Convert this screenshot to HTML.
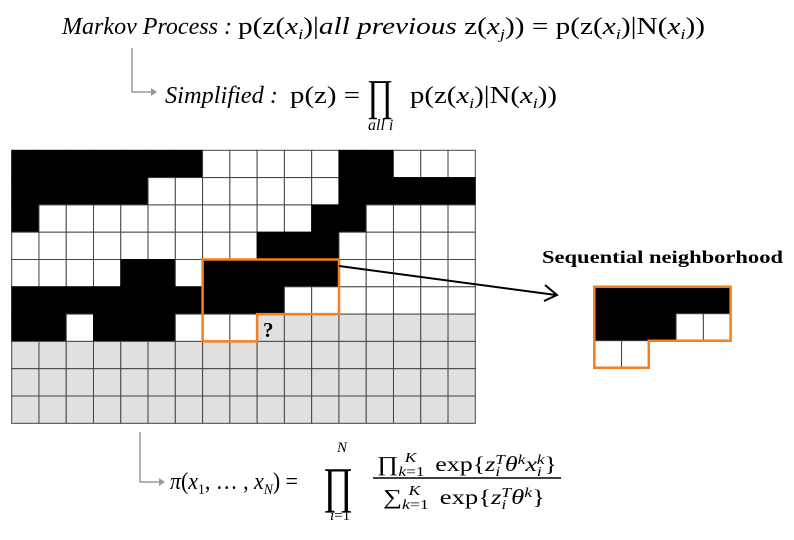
<!DOCTYPE html>
<html><head><meta charset="utf-8"><style>
html,body{margin:0;padding:0;background:#fff;}
svg{display:block;}
text{font-family:"Liberation Serif",serif;fill:#000;}
</style></head><body>
<svg id="s" width="794" height="540" viewBox="0 0 794 540">
 <g>
  <text x="62" y="34" font-size="24" font-style="italic" textLength="170" lengthAdjust="spacingAndGlyphs">Markov Process :</text>
  <text x="238" y="34" font-size="24" textLength="467" lengthAdjust="spacingAndGlyphs">p(z(<tspan font-style="italic">x</tspan><tspan font-size="15" font-style="italic" dy="5">i</tspan><tspan dy="-5">)|</tspan><tspan font-style="italic">all previous </tspan>z(<tspan font-style="italic">x</tspan><tspan font-size="15" font-style="italic" dy="5">j</tspan><tspan dy="-5">)) =  p(z(</tspan><tspan font-style="italic">x</tspan><tspan font-size="15" font-style="italic" dy="5">i</tspan><tspan dy="-5">)|N(</tspan><tspan font-style="italic">x</tspan><tspan font-size="15" font-style="italic" dy="5">i</tspan><tspan dy="-5">))</tspan></text>
 </g>
 <path d="M132,48 V92 H152" fill="none" stroke="#999" stroke-width="1.5"/>
 <path d="M151,88 L157,92 L151,96 Z" fill="#999"/>
 <g>
  <text x="165" y="103" font-size="24" font-style="italic" textLength="113" lengthAdjust="spacingAndGlyphs">Simplified :</text>
  <text x="290" y="103" font-size="24" textLength="70" lengthAdjust="spacingAndGlyphs">p(z) =</text>
  <text x="367" y="110" font-size="44" textLength="26" lengthAdjust="spacingAndGlyphs">∏</text>
  <text x="368" y="130" font-size="16" font-style="italic">all i</text>
  <text x="410" y="103" font-size="24" textLength="147" lengthAdjust="spacingAndGlyphs">p(z(<tspan font-style="italic">x</tspan><tspan font-size="15" font-style="italic" dy="5">i</tspan><tspan dy="-5">)|N(</tspan><tspan font-style="italic">x</tspan><tspan font-size="15" font-style="italic" dy="5">i</tspan><tspan dy="-5">))</tspan></text>
 </g>
 <g id="grid"></g>
 <path d="M202.6,259.5 H339 V314.1 H257.1 V341.4 H202.6 Z" fill="none" stroke="#f47f20" stroke-width="2.5"/>
 <text x="263" y="337" font-size="21" font-weight="bold">?</text>
 <path d="M339,266 L556,295" stroke="#000" stroke-width="2"/>
 <path d="M545,285 L557,295 L544,301" fill="none" stroke="#000" stroke-width="2"/>
 <text x="542" y="263" font-size="18" font-weight="bold" textLength="241" lengthAdjust="spacingAndGlyphs">Sequential neighborhood</text>
 <g id="nb"></g>
 <path d="M140,432 V482 H160" fill="none" stroke="#999" stroke-width="1.5"/>
 <path d="M159,478 L165,482 L159,486 Z" fill="#999"/>
 <g>
  <text x="170" y="489" font-size="24" textLength="128" lengthAdjust="spacingAndGlyphs"><tspan font-style="italic">π</tspan>(<tspan font-style="italic">x</tspan><tspan font-size="15" dy="5">1</tspan><tspan dy="-5">, … , </tspan><tspan font-style="italic">x</tspan><tspan font-size="15" font-style="italic" dy="5">N</tspan><tspan dy="-5">) =</tspan></text>
  <text x="323" y="502" font-size="50" textLength="30" lengthAdjust="spacingAndGlyphs">∏</text>
  <text x="337" y="452" font-size="15" font-style="italic">N</text>
  <text x="330" y="520" font-size="15"><tspan font-style="italic">i</tspan>=1</text>
  <text x="377" y="471" font-size="21" textLength="180" lengthAdjust="spacingAndGlyphs">∏<tspan font-size="14" dy="5" font-style="italic">k</tspan><tspan font-size="14" dy="0">=1</tspan><tspan font-size="14" dx="-16" dy="-14" font-style="italic">K</tspan><tspan dx="10" dy="9"> exp{</tspan><tspan font-style="italic">z</tspan><tspan font-size="14" dy="5" font-style="italic">i</tspan><tspan font-size="14" dx="-4" dy="-12" font-style="italic">T</tspan><tspan dy="7" font-style="italic">θ</tspan><tspan font-size="14" dy="-7" font-style="italic">k</tspan><tspan dy="7" font-style="italic">x</tspan><tspan font-size="14" dy="5" font-style="italic">i</tspan><tspan font-size="14" dx="-4" dy="-12" font-style="italic">k</tspan><tspan dy="7">}</tspan></text>
  <line x1="373" y1="478" x2="561" y2="478" stroke="#000" stroke-width="1.5"/>
  <text x="383" y="504" font-size="21" textLength="162" lengthAdjust="spacingAndGlyphs">∑<tspan font-size="14" dy="5" font-style="italic">k</tspan><tspan font-size="14">=1</tspan><tspan font-size="14" dx="-16" dy="-14" font-style="italic">K</tspan><tspan dx="10" dy="9"> exp{</tspan><tspan font-style="italic">z</tspan><tspan font-size="14" dy="5" font-style="italic">i</tspan><tspan font-size="14" dx="-4" dy="-12" font-style="italic">T</tspan><tspan dy="7" font-style="italic">θ</tspan><tspan font-size="14" dy="-7" font-style="italic">k</tspan><tspan dy="7">}</tspan></text>
 </g>
</svg>
<script>
// 1 = black, 0 = white, 2 = gray (unlabeled)
const gridRows = [
 "11111110000011000",
 "11111000000011111",
 "10000000000110000",
 "00000000011100000",
 "00001101111100000",
 "11111111110000000",
 "11011100022222222",
 "22222222222222222",
 "22222222222222222",
 "22222222222222222"
];
const neighborhoodRows = ["11111","11100","00"];
const fills = {"0":"#fff","1":"#000","2":"#e0e0e0"};
const NS="http://www.w3.org/2000/svg";
function drawGrid(g, rows, x0, y0, cw, ch){
  rows.forEach((row, r)=>{
    for(let c=0;c<row.length;c++){
      const rc=document.createElementNS(NS,'rect');
      rc.setAttribute('x', x0+c*cw);
      rc.setAttribute('y', y0+r*ch);
      rc.setAttribute('width', cw);
      rc.setAttribute('height', ch);
      rc.setAttribute('fill', fills[row[c]]);
      rc.setAttribute('stroke', row[c]==='1' ? '#000' : '#444');
      rc.setAttribute('stroke-width', '1');
      
      
      g.appendChild(rc);
    }
  });
}
drawGrid(document.getElementById('grid'), gridRows, 11.7, 150.3, 27.27, 27.3);
drawGrid(document.getElementById('nb'), neighborhoodRows, 594.3, 286.7, 27.27, 27.0);
const nbOutline=document.createElementNS(NS,'path');
nbOutline.setAttribute('d','M594.3,286.7 H730.6 V340.7 H648.8 V367.7 H594.3 Z');
nbOutline.setAttribute('fill','none');
nbOutline.setAttribute('stroke','#f47f20');
nbOutline.setAttribute('stroke-width','2.5');


document.getElementById('nb').appendChild(nbOutline);
</script>
</body></html>
